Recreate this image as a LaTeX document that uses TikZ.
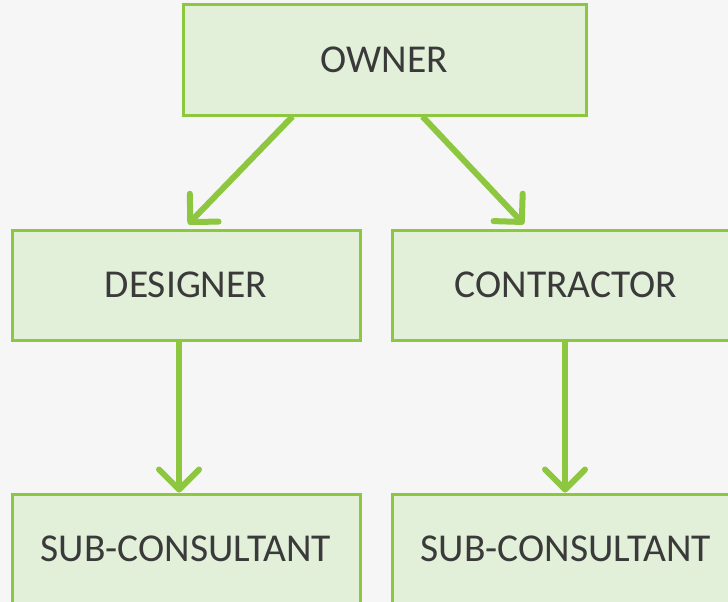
\documentclass[tikz,border=0pt]{standalone}
\usepackage{fontspec}
\setmainfont{Carlito}
\usetikzlibrary{arrows.meta}
\definecolor{bgc}{HTML}{F6F6F6}
\definecolor{boxfill}{HTML}{E2EFD9}
\definecolor{boxline}{HTML}{8DC63F}
\definecolor{txt}{HTML}{3A3A3A}
\tikzset{
  orgbox/.style={draw=boxline, line width=3pt, fill=boxfill, minimum height=110pt,
    text=txt, font=\fontsize{39.5}{46}\selectfont, inner sep=0pt},
  arr/.style={draw=boxline, line width=6pt,
    -{Straight Barb[length=20pt, width=40pt, line width=6pt, round]}}
}
\begin{document}
\begin{tikzpicture}[x=1pt, y=-1pt]
\useasboundingbox (0,0) rectangle (728,602);
\clip (0,0) rectangle (728,602);
\fill[bgc] (0,0) rectangle (728,602);
\fill[gray!6, opacity=0.5] (230,420) ellipse (70 and 45);
\fill[gray!6, opacity=0.5] (470,380) ellipse (90 and 40);
\fill[gray!6, opacity=0.5] (660,420) ellipse (60 and 50);
\fill[gray!6, opacity=0.4] (560,160) ellipse (25 and 60);
\node[orgbox, minimum width=403pt] (owner) at (384.5,60) {OWNER};
\node[orgbox, minimum width=348pt] (designer) at (186,285) {DESIGNER};
\node[orgbox, minimum width=348pt] (contractor) at (566,285) {CONTRACTOR};
\node[orgbox, minimum width=348pt] (sub1) at (186,549) {SUB-CONSULTANT};
\node[orgbox, minimum width=348pt] (sub2) at (566,549) {SUB-CONSULTANT};
\draw[arr, shorten >=6pt] ([xshift=-92pt]owner.south) -- ([xshift=-2pt]designer.north);
\draw[arr, shorten >=6pt] ([xshift=38pt]owner.south) -- ([xshift=-38pt]contractor.north);
\draw[arr] ([xshift=-7pt]designer.south) -- ([xshift=-7pt]sub1.north);
\draw[arr] ([xshift=-1pt]contractor.south) -- ([xshift=-1pt]sub2.north);
\end{tikzpicture}
\end{document}
